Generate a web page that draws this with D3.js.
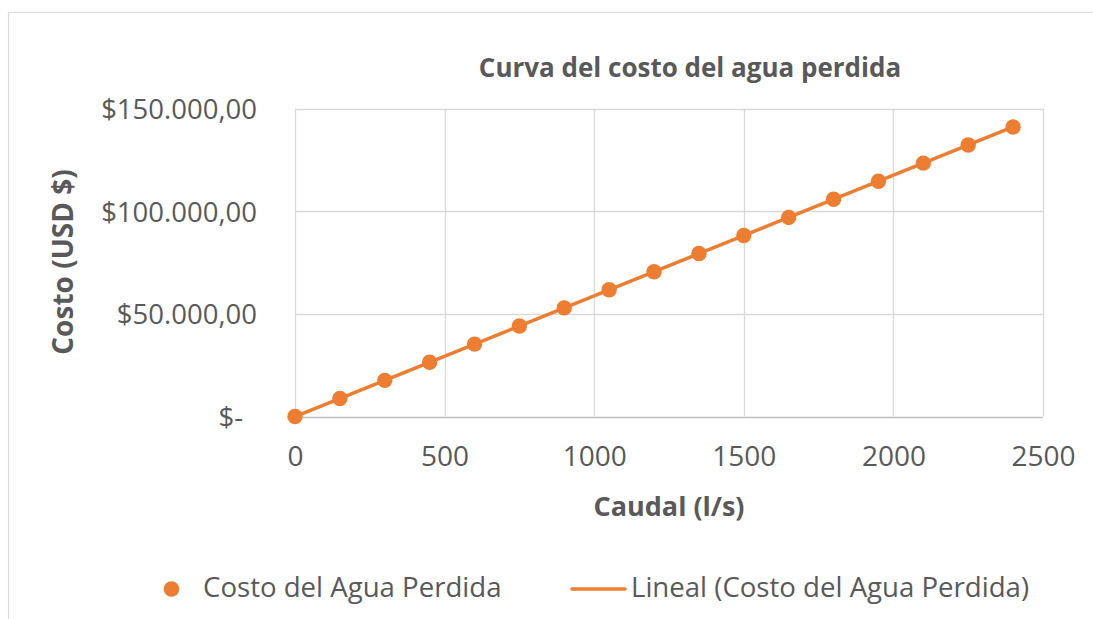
<!DOCTYPE html>
<html><head><meta charset="utf-8">
<script src="https://cdn.jsdelivr.net/npm/d3@7"></script>
<style>
html,body{margin:0;padding:0;background:#fff;}
svg{display:block;font-family:"Open Sans",sans-serif;}
</style></head>
<body>
<svg id="c" width="1093" height="619"></svg>
<script>
const caudal = [0,150,300,450,600,750,900,1050,1200,1350,1500,1650,1800,1950,2100,2250,2400];
const costo = [0,8800,17600,26400,35250,44100,52900,61700,70500,79350,88150,96950,105800,114600,123400,132200,141000];
const xTicks = [0,500,1000,1500,2000,2500];
const yTicks = [0,50000,100000,150000];
const yTickLabels = ["$-","$50.000,00","$100.000,00","$150.000,00"];
const title = "Curva del costo del agua perdida";
const xTitle = "Caudal (l/s)";
const yTitle = "Costo (USD $)";
const seriesName = "Costo del Agua Perdida";
const trendName = "Lineal (Costo del Agua Perdida)";

const orange = "#ED7D31", txt = "#595959", grid = "#d9d9d9";
const svg = d3.select("#c");
const L = 295, R = 1043, T = 108.5, B = 416.5;
const x = d3.scaleLinear().domain([0,2500]).range([L,R]);
const y = d3.scaleLinear().domain([0,150000]).range([B,T]);

// chart border
svg.append("rect").attr("x",8.5).attr("y",12.5).attr("width",1100).attr("height",620)
  .attr("fill","none").attr("stroke","#d9d9d9").attr("stroke-width",1.2);

// gridlines
svg.append("g").selectAll("line").data(yTicks).join("line")
  .attr("x1",L).attr("x2",R).attr("y1",d=>Math.round(y(d))+0.5).attr("y2",d=>Math.round(y(d))+0.5)
  .attr("stroke",d=>d===0?"#bfbfbf":grid).attr("stroke-width",1.3);
svg.append("g").selectAll("line").data(xTicks).join("line")
  .attr("y1",T).attr("y2",B).attr("x1",d=>Math.round(x(d))+0.5).attr("x2",d=>Math.round(x(d))+0.5)
  .attr("stroke",grid).attr("stroke-width",1.3);

// axes labels via d3 axes
const yAxis = d3.axisLeft(y).tickValues(yTicks).tickSize(0).tickPadding(38)
  .tickFormat((d,i)=>yTickLabels[i]);
const gy = svg.append("g").attr("transform",`translate(${L},0)`).call(yAxis);
gy.select(".domain").remove();
gy.selectAll("text").attr("fill",txt).style("font-size","27.5px").style("font-family","'Open Sans',sans-serif")
  .attr("dx",(d)=>d===0?-14:0).attr("dy","0.36em");

const xAxis = d3.axisBottom(x).tickValues(xTicks).tickSize(0).tickPadding(30).tickFormat(d3.format("d"));
const gx = svg.append("g").attr("transform",`translate(0,${B})`).call(xAxis);
gx.select(".domain").remove();
gx.selectAll("text").attr("fill",txt).style("font-size","28px").style("font-family","'Open Sans',sans-serif");

// trendline (least squares)
const mx = d3.mean(caudal), my = d3.mean(costo);
const slope = d3.sum(caudal.map((v,i)=>(v-mx)*(costo[i]-my))) / d3.sum(caudal.map(v=>(v-mx)*(v-mx)));
const icpt = my - slope*mx;
const ext = d3.extent(caudal);
svg.append("line").attr("x1",x(ext[0])).attr("y1",y(icpt+slope*ext[0]))
  .attr("x2",x(ext[1])).attr("y2",y(icpt+slope*ext[1]))
  .attr("stroke",orange).attr("stroke-width",3.5);

// points
svg.append("g").selectAll("circle").data(caudal).join("circle")
  .attr("cx",d=>x(d)).attr("cy",(d,i)=>y(costo[i])).attr("r",7.7).attr("fill",orange);

// titles
svg.append("text").attr("x",690).attr("y",77).attr("text-anchor","middle")
  .attr("fill",txt).style("font-size","26px").style("font-weight","bold").text(title);
svg.append("text").attr("x",669).attr("y",516).attr("text-anchor","middle")
  .attr("fill",txt).style("font-size","27px").style("font-weight","bold").text(xTitle);
svg.append("text").attr("transform","translate(73,262) rotate(-90)").attr("text-anchor","middle")
  .attr("fill",txt).style("font-size","28px").style("font-weight","bold").text(yTitle);

// legend
svg.append("circle").attr("cx",171.5).attr("cy",589).attr("r",7.8).attr("fill",orange);
svg.append("text").attr("x",203).attr("y",597).attr("fill",txt).style("font-size","27.6px").text(seriesName);
svg.append("line").attr("x1",572).attr("x2",625).attr("y1",589).attr("y2",589)
  .attr("stroke",orange).attr("stroke-width",3.5).attr("stroke-linecap","round");
svg.append("text").attr("x",631).attr("y",597).attr("fill",txt).style("font-size","27.6px").text(trendName);
</script>
</body></html>
